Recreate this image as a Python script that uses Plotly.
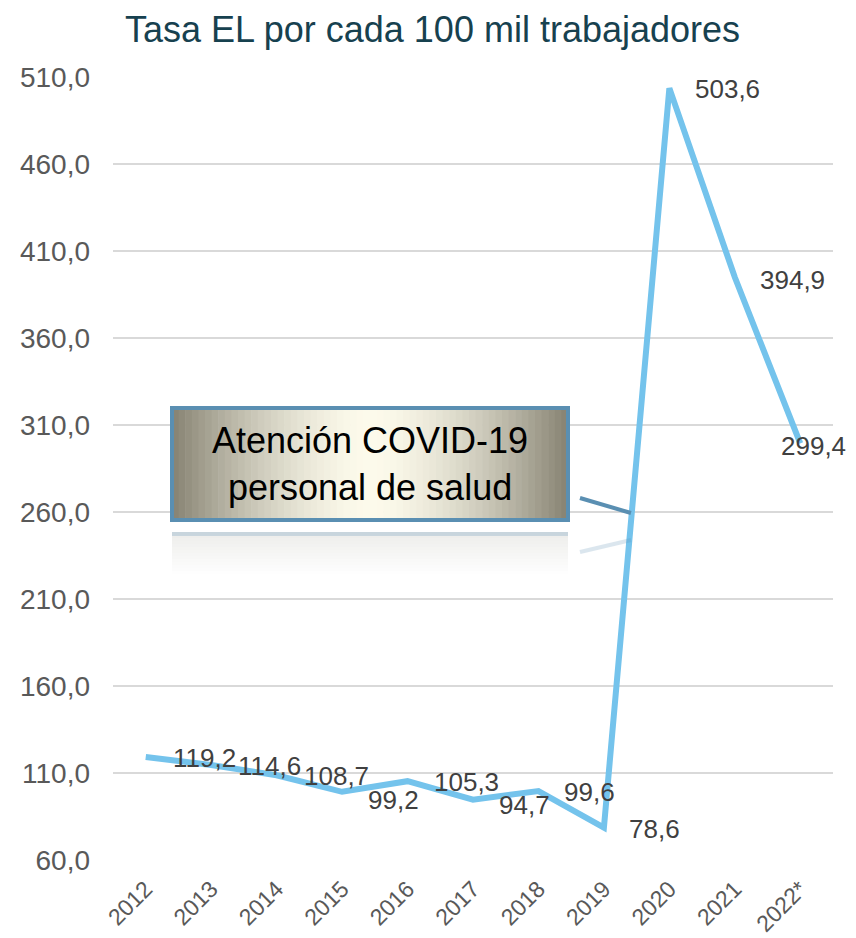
import plotly.graph_objects as go

years = ["2012", "2013", "2014", "2015", "2016", "2017", "2018", "2019", "2020", "2021", "2022*"]
tasa = [119.2, 114.6, 108.7, 99.2, 105.3, 94.7, 99.6, 78.6, 503.6, 394.9, 299.4]
y_ticks = [60, 110, 160, 210, 260, 310, 360, 410, 460, 510]
y_ticktext = ["60,0", "110,0", "160,0", "210,0", "260,0", "310,0", "360,0", "410,0", "460,0", "510,0"]
title_text = "Tasa EL por cada 100 mil trabajadores"
box_lines = ["Atención COVID-19", "personal de salud"]

# label pixel offsets (styling)
lab_dx = [25, 25, 25, 24, 24, 24, 24, 23, 24, 23, -21]
lab_dy = [-1, -1, -1, -8, -1, -5, -1, -1, -1, -3, -3]

xs = list(range(len(years)))

fig = go.Figure()
fig.add_trace(go.Scatter(
    x=xs, y=tasa, mode="lines",
    line=dict(color="#74C3EC", width=6, shape="linear"),
    hoverinfo="skip", showlegend=False,
))

# page has an 8px body margin; figure sized to fit the window
W, H = 848, 930
L, T, PW, PH = 105, 69, 720, 783
R = W - L - PW
B = H - T - PH

annotations = []
for i, v in enumerate(tasa):
    annotations.append(dict(
        x=i, y=v, xref="x", yref="y",
        text=f"{v:.1f}".replace(".", ","),
        showarrow=False, xanchor="left", yanchor="middle",
        xshift=lab_dx[i], yshift=lab_dy[i],
        font=dict(family="Liberation Sans, Arial", size=26, color="#404040"),
    ))

# screen (window) pixel -> paper coordinates
def px(xp):
    return (xp - 8 - L) / PW

def py(yp):
    return 1 - (yp - 8 - T) / PH

shapes = []
bx0, bx1, by0, by1 = 172, 568, 408, 520
n = 60
edge = (0x86, 0x82, 0x72)
mid = (0xFD, 0xFB, 0xEC)
for k in range(n):
    t = (k + 0.5) / n
    d = abs(t - 0.5) * 2
    f = min(1.0, d ** 1.6)
    c = tuple(int(mid[j] + (edge[j] - mid[j]) * f) for j in range(3))
    x0 = bx0 + (bx1 - bx0) * k / n
    x1 = bx0 + (bx1 - bx0) * (k + 1) / n + 0.6
    shapes.append(dict(type="rect", xref="paper", yref="paper",
                       x0=px(x0), x1=px(x1), y0=py(by1), y1=py(by0),
                       line=dict(width=0), fillcolor="rgb(%d,%d,%d)" % c, layer="above"))
shapes.append(dict(type="rect", xref="paper", yref="paper",
                   x0=px(bx0), x1=px(bx1), y0=py(by1), y1=py(by0),
                   line=dict(width=4, color="#5A8FB2"), fillcolor="rgba(0,0,0,0)", layer="above"))
# reflection (faded)
rn = 14
for k in range(rn):
    y0 = 532 + k * 3
    a = 0.35 * (1 - k / rn)
    shapes.append(dict(type="rect", xref="paper", yref="paper",
                       x0=px(bx0), x1=px(bx1), y0=py(y0 + 3), y1=py(y0),
                       line=dict(width=0), fillcolor="rgba(170,170,160,%.3f)" % (a * 0.6), layer="above"))
shapes.append(dict(type="line", xref="paper", yref="paper",
                   x0=px(bx0), x1=px(bx1), y0=py(534), y1=py(534),
                   line=dict(width=4, color="rgba(90,143,178,0.25)"), layer="above"))
# connector
shapes.append(dict(type="line", xref="paper", yref="paper",
                   x0=px(580), x1=px(631), y0=py(498), y1=py(513),
                   line=dict(width=4, color="#5A8FB2"), layer="above"))
shapes.append(dict(type="line", xref="paper", yref="paper",
                   x0=px(580), x1=px(631), y0=py(552), y1=py(540),
                   line=dict(width=4, color="rgba(90,143,178,0.22)"), layer="above"))

annotations.append(dict(
    x=px((bx0 + bx1) / 2), y=py((by0 + by1) / 2), xref="paper", yref="paper",
    text="<br>".join(box_lines), showarrow=False, xanchor="center", yanchor="middle",
    font=dict(family="Liberation Sans, Arial", size=36, color="#000000"),
))
annotations.append(dict(
    x=px(432), y=py(8), xref="paper", yref="paper",
    text=title_text, showarrow=False, xanchor="center", yanchor="top",
    borderpad=0,
    font=dict(family="Liberation Sans, Arial", size=36, color="#17414F"),
))

fig.update_layout(
    width=W, height=H,
    margin=dict(l=L, r=R, t=T, b=B, pad=0, autoexpand=False),
    plot_bgcolor="white", paper_bgcolor="white",
    shapes=shapes, annotations=annotations,
    showlegend=False,
    xaxis=dict(range=[-0.5, len(years) - 0.5], tickvals=xs, ticktext=years,
               tickangle=-45, showgrid=False, zeroline=False, showline=False,
               ticks="", ticklabelstandoff=10, automargin=False,
               tickfont=dict(family="Liberation Sans, Arial", size=23, color="#595959"),
               fixedrange=True),
    yaxis=dict(range=[60, 510], tickvals=y_ticks, ticktext=y_ticktext,
               showgrid=True, gridcolor="#D9D9D9", gridwidth=1.5, zeroline=False,
               showline=False, ticks="", ticklabelstandoff=22, automargin=False,
               tickfont=dict(family="Liberation Sans, Arial", size=28, color="#595959"),
               fixedrange=True),
)

fig.write_html("out.html")
